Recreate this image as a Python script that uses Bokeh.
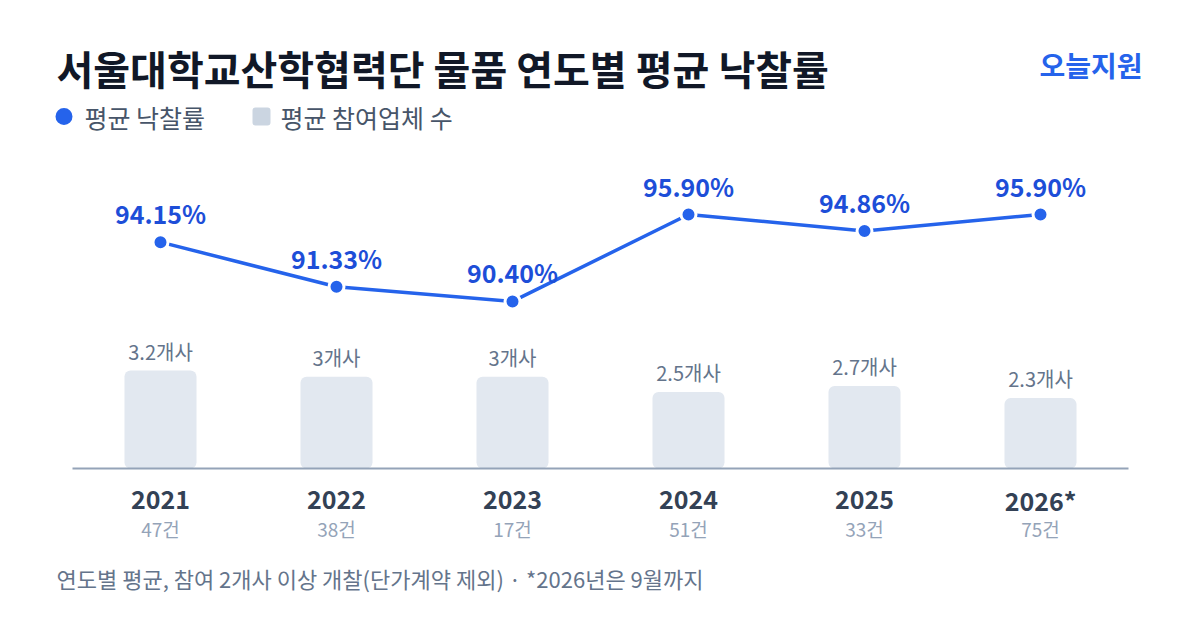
from bokeh.plotting import figure
from bokeh.models import Range1d, Label, BoxAnnotation, ColumnDataSource
from bokeh.core.properties import value
from bokeh.embed import file_html
from bokeh.resources import INLINE

# data
years = ["2021", "2022", "2023", "2024", "2025", "2026*"]
rates = [94.15, 91.33, 90.40, 95.90, 94.86, 95.90]
bidders = [3.2, 3, 3, 2.5, 2.7, 2.3]
counts = [47, 38, 17, 51, 33, 75]

FONT_NAME = "Noto Sans CJK KR"
FONT = value(FONT_NAME)
W, H = 1184, 614

idx = list(range(len(years)))
src = ColumnDataSource(dict(
    x=idx,
    year=years,
    rate=rates,
    rate_lbl=[f"{r:.2f}%" for r in rates],
    bid=bidders,
    bid_lbl=[f"{b:g}개사" for b in bidders],
    cnt_lbl=[f"{c}건" for c in counts],
))

# 176px per category, first center at x=160px, baseline at y=468px
x0 = -160 / 176
p = figure(width=W, height=H, output_backend="svg", toolbar_location=None,
           x_range=Range1d(x0, x0 + W / 176),
           y_range=Range1d(-(H - 468) / 30.6, 468 / 30.6),
           x_axis_type=None, y_axis_type=None, min_border=0)
r0 = 95.9 - (H - 214) / 15.8
p.extra_y_ranges = {"rate": Range1d(r0, r0 + H / 15.8)}
p.grid.visible = False
p.outline_line_color = None
p.background_fill_color = "white"
p.border_fill_color = "white"

# bars
p.vbar(x="x", top="bid", bottom=0, width=72 / 176, source=src,
       fill_color="#e2e8f0", line_color=None, border_radius=6)
p.text(x="x", y="bid", text="bid_lbl", source=src, text_font=FONT, text_font_size="20px",
       text_color="#64748b", text_align="center", text_baseline="bottom", y_offset=-5)

# baseline
p.line(x=[-0.5, len(years) - 0.5], y=[0, 0], line_color="#94a3b8", line_width=2)

# line
p.line(x="x", y="rate", source=src, y_range_name="rate", line_color="#2563eb", line_width=3.5)
p.scatter(x="x", y="rate", source=src, y_range_name="rate", size=15,
          fill_color="#2563eb", line_color="white", line_width=3)
p.text(x="x", y="rate", text="rate_lbl", source=src, y_range_name="rate", text_font=FONT,
       text_font_size="25px", text_font_style="bold", text_color="#1d4ed8",
       text_align="center", text_baseline="middle", y_offset=-29)

# x labels
p.text(x="x", y=0, text="year", source=src, text_font=FONT, text_font_size="25px",
       text_font_style="bold", text_color="#334155", text_align="center",
       text_baseline="middle", y_offset=31)
p.text(x="x", y=0, text="cnt_lbl", source=src, text_font=FONT, text_font_size="19px",
       text_color="#94a3b8", text_align="center", text_baseline="middle", y_offset=60)


def sy(ref_y):
    return H - ref_y


def lab(txt, x, y, size, color, bold=False, align="left"):
    p.add_layout(Label(x=x, y=sy(y), x_units="screen", y_units="screen", text=txt,
                       text_font=FONT_NAME, text_font_size=size, text_color=color,
                       text_font_style="bold" if bold else "normal",
                       text_align=align, text_baseline="middle"))


lab("서울대학교산학협력단 물품 연도별 평균 낙찰률", 56, 67, "40px", "#111827", bold=True)
lab("오늘지원", 1142, 64, "28px", "#2563eb", bold=True, align="right")

# legend
p.add_layout(BoxAnnotation(left=55, right=72, bottom=sy(124.5), top=sy(107.5),
                           left_units="screen", right_units="screen",
                           bottom_units="screen", top_units="screen",
                           fill_color="#2563eb", fill_alpha=1, line_color=None, border_radius=9))
lab("평균 낙찰률", 84, 116, "25px", "#475569")
p.add_layout(BoxAnnotation(left=252, right=270, bottom=sy(125), top=sy(107),
                           left_units="screen", right_units="screen",
                           bottom_units="screen", top_units="screen",
                           fill_color="#cbd5e1", fill_alpha=1, line_color=None, border_radius=3))
lab("평균 참여업체 수", 280, 116, "25px", "#475569")

lab("연도별 평균, 참여 2개사 이상 개찰(단가계약 제외) · *2026년은 9월까지", 56, 577, "22px", "#64748b")

open("out.html", "w").write(file_html(p, INLINE))
